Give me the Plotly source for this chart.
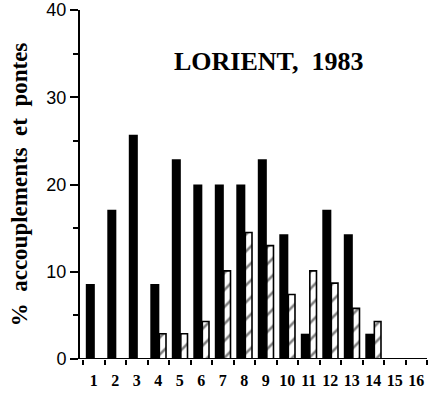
import plotly.graph_objects as go

days = list(range(1, 17))
day_labels = [str(d) for d in days]
accouplements = [8.6, 17.1, 25.7, 8.6, 22.9, 20.0, 20.0, 20.0, 22.9, 14.3, 2.9, 17.1, 14.3, 2.9, 0, 0]
pontes = [0, 0, 0, 2.9, 2.9, 4.3, 10.1, 14.5, 13.0, 7.4, 10.1, 8.7, 5.8, 4.3, 0, 0]

fig = go.Figure()
fig.add_trace(go.Bar(
    x=days, y=accouplements, offset=-0.37, width=0.42,
    marker=dict(color="black", line=dict(width=0)),
    name="accouplements", showlegend=False,
))
fig.add_trace(go.Bar(
    x=days, y=pontes, offset=0.05, width=0.31,
    marker=dict(color="white", line=dict(color="black", width=1.6),
                pattern=dict(shape="/", fgcolor="black", bgcolor="white", size=12, solidity=0.22)),
    name="pontes", showlegend=False,
))

serif = "Liberation Serif"
fig.update_layout(
    width=428, height=399,
    margin=dict(l=80, r=1, t=10, b=40),
    plot_bgcolor="white", paper_bgcolor="white",
    barmode="overlay",
    xaxis=dict(
        range=[0.36, 16.5], tickmode="array", tickvals=days,
        ticktext=["<b>%s</b>" % t for t in day_labels],
        ticks="", showgrid=False, zeroline=False,
        showline=False, automargin=False,
        tickfont=dict(family=serif, size=16, color="black"),
        minor=dict(tick0=0.5, dtick=1, ticks="outside", ticklen=5, tickwidth=2, tickcolor="black", showgrid=False),
        ticklabelstandoff=10,
    ),
    yaxis=dict(
        range=[0, 40], tickmode="array", tickvals=[0, 10, 20, 30, 40],
        ticks="outside", ticklen=8, tickwidth=2, tickcolor="black",
        showline=True, linewidth=2, linecolor="black",
        showgrid=False, zeroline=False, automargin=False,
        tickfont=dict(family="Liberation Sans", size=18, color="black"),
        minor=dict(tickvals=[5, 15, 25, 35], ticks="outside", ticklen=5, tickwidth=2, tickcolor="black", showgrid=False),
        title=dict(text="<b>%  accouplements  et  pontes</b>", font=dict(family=serif, size=23, color="black"), standoff=12),
    ),
    shapes=[dict(type="line", xref="x", yref="y", x0=0.36, x1=16.5, y0=0, y1=0,
                 line=dict(color="black", width=2))],
    annotations=[dict(
        text="<b>LORIENT,  1983</b>", xref="paper", yref="paper", x=0.545, y=0.853,
        xanchor="center", yanchor="middle",
        showarrow=False, font=dict(family=serif, size=26, color="black"),
    )],
)

fig.write_html("out.html", config={"displayModeBar": False},
               post_script="document.body.style.margin='0';document.body.style.overflow='hidden';")
